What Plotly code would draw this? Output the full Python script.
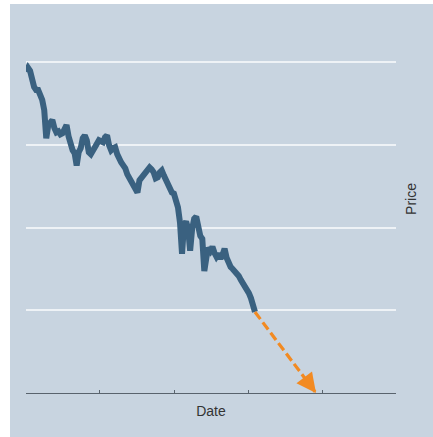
import pandas as pd
import plotly.graph_objects as go

# Closing price, sampled every 10 days from the start of the series
price = [
    97.1, 98.3, 97.4, 94.6, 92.5, 91.6, 91.6, 90.1, 88.6, 85.5,
    77.0, 81.0, 81.6, 82.5, 80.1, 78.8, 79.1, 78.2, 78.5, 80.4,
    81.0, 77.6, 75.2, 73.4, 72.5, 68.8, 72.8, 74.0, 77.0, 77.9,
    76.4, 72.8, 72.2, 73.4, 74.6, 75.8, 76.4, 76.1, 75.8, 77.3,
    77.9, 74.9, 73.4, 74.0, 74.3, 72.2, 70.6, 69.7, 68.8, 67.9,
    66.1, 64.9, 64.3, 63.0, 62.1, 60.6, 64.3, 65.2, 65.8, 66.7,
    67.3, 68.2, 67.6, 66.7, 64.9, 65.2, 66.7, 67.3, 65.8, 64.3,
    62.7, 61.5, 60.6, 60.3, 58.2, 56.1, 51.5, 42.1, 50.9, 51.8,
    49.7, 43.0, 49.7, 52.7, 53.3, 50.3, 47.5, 46.6, 36.9, 40.9,
    43.9, 43.0, 44.2, 42.4, 41.2, 42.1, 40.6, 41.8, 43.6, 40.9,
    39.0, 38.1, 37.5, 36.9, 36.0, 35.4, 34.2, 33.3, 31.7, 30.8,
    30.2, 28.7, 26.9, 24.5,
]
start_date = "2019-01-01"
dates = pd.date_range(start_date, periods=len(price), freq="10D")

# Projected continuation of the trend down to zero
forecast_date = "2022-12-02"
forecast_price = 0.0

# Axis extent and year ticks (drawn without labels)
x_range = ["2019-01-01", "2024-01-01"]
year_ticks = ["2019-01-01", "2020-01-01", "2021-01-01",
              "2022-01-01", "2023-01-01", "2024-01-01"]
y_range = [0, 117.3]
y_step = 25

BG = "#c8d4e0"
LINE = "#3a6180"
ORANGE = "#f28a22"
AXIS = "#59636d"

fig = go.Figure()

fig.add_trace(go.Scatter(
    x=dates, y=price, mode="lines",
    line=dict(color=LINE, width=6, shape="linear"),
    hoverinfo="skip", showlegend=False,
))

# Dashed projection line
fig.add_trace(go.Scatter(
    x=[dates[-1], forecast_date], y=[price[-1], forecast_price],
    mode="lines",
    line=dict(color=ORANGE, width=3.2, dash="9px,4px"),
    hoverinfo="skip", showlegend=False, cliponaxis=False,
))

# Arrowhead at the end of the projection
last = pd.Timestamp(dates[-1])
end = pd.Timestamp(forecast_date)
tail_x = last + (end - last) * 0.88
tail_y = price[-1] + (forecast_price - price[-1]) * 0.88
fig.add_annotation(
    x=end, y=forecast_price, ax=tail_x, ay=tail_y,
    xref="x", yref="y", axref="x", ayref="y",
    text="", showarrow=True,
    arrowhead=2, arrowsize=1.3, arrowwidth=3, arrowcolor=ORANGE,
)

# Framed backdrop behind the chart
fig.add_shape(
    type="rect", xref="paper", yref="paper",
    x0=-0.0432, x1=1.11, y0=-0.12, y1=1.0026,
    fillcolor=BG, line=dict(width=0), layer="below",
)

fig.update_layout(
    width=433, height=437,
    margin=dict(l=26, r=37, t=5, b=44, autoexpand=False),
    paper_bgcolor="white",
    plot_bgcolor=BG,
    font=dict(family="Liberation Sans, Arial, sans-serif", size=14, color="#333333"),
    xaxis=dict(
        type="date", range=x_range,
        tickvals=year_ticks, showticklabels=False,
        ticks="inside", ticklen=3, tickcolor=AXIS, tickwidth=1,
        showline=True, linecolor=AXIS, linewidth=1,
        showgrid=False, zeroline=False,
        title=dict(text="Date", standoff=13, font=dict(size=14)),
        automargin=False,
    ),
    yaxis=dict(
        range=y_range, dtick=y_step, side="right",
        showticklabels=False, ticks="",
        showgrid=True, gridcolor="#eef2f6", gridwidth=1.5,
        zeroline=False, showline=False,
        title=dict(text="Price", standoff=10, font=dict(size=14)),
        automargin=False,
    ),
)

fig.write_html("out.html")
